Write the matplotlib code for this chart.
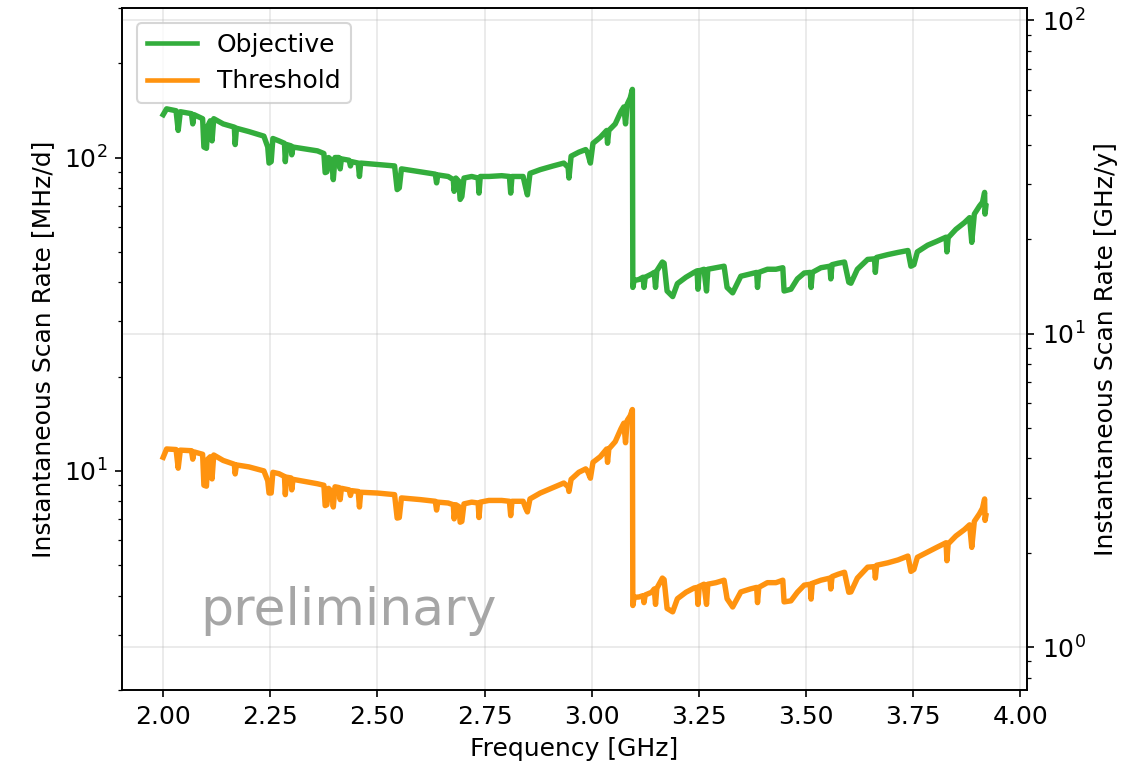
import numpy as np
import matplotlib
matplotlib.use("Agg")
import matplotlib.pyplot as plt
plt.rcParams.update({'font.size': 12})

# frequency grid [GHz], shared by both curves
freq = [2.000, 2.008, 2.030, 2.035, 2.040, 2.066, 2.069, 2.072, 2.092, 2.095,
        2.101, 2.104, 2.110, 2.114, 2.118, 2.140, 2.166, 2.168, 2.171, 2.200,
        2.235, 2.244, 2.247, 2.252, 2.256, 2.270, 2.283, 2.285, 2.288, 2.298,
        2.300, 2.303, 2.360, 2.375, 2.378, 2.382, 2.386, 2.393, 2.397, 2.401,
        2.410, 2.413, 2.416, 2.434, 2.437, 2.440, 2.455, 2.458, 2.461, 2.500,
        2.540, 2.546, 2.551, 2.556, 2.600, 2.635, 2.638, 2.641, 2.665, 2.677,
        2.679, 2.683, 2.690, 2.693, 2.697, 2.702, 2.720, 2.735, 2.737, 2.740,
        2.760, 2.790, 2.808, 2.811, 2.814, 2.840, 2.846, 2.850, 2.856, 2.880,
        2.910, 2.935, 2.945, 2.947, 2.952, 2.970, 2.986, 2.990, 2.997, 3.003,
        3.020, 3.035, 3.037, 3.040, 3.055, 3.068, 3.075, 3.079, 3.083, 3.090,
        3.095, 3.096, 3.099, 3.110, 3.120, 3.122, 3.125, 3.140, 3.146, 3.149,
        3.152, 3.165, 3.169, 3.176, 3.189, 3.200, 3.220, 3.239, 3.246, 3.248,
        3.251, 3.262, 3.268, 3.271, 3.290, 3.309, 3.316, 3.329, 3.348, 3.370,
        3.385, 3.387, 3.390, 3.410, 3.430, 3.446, 3.449, 3.465, 3.480, 3.496,
        3.510, 3.512, 3.515, 3.535, 3.556, 3.558, 3.561, 3.575, 3.590, 3.600,
        3.605, 3.620, 3.644, 3.660, 3.662, 3.665, 3.691, 3.715, 3.738, 3.745,
        3.752, 3.760, 3.784, 3.805, 3.827, 3.829, 3.832, 3.850, 3.870, 3.882,
        3.887, 3.893, 3.905, 3.912, 3.917, 3.918, 3.920]

# objective scan rate [MHz/d]
objective = [137, 143, 141, 122, 140, 138, 128, 137, 133, 108,
             107, 126, 131, 113, 133, 128, 125, 110, 124, 121,
             117, 108, 96, 97, 115, 113, 111, 97, 110, 109,
             102, 108, 105, 103, 89.5, 90, 100, 98, 85, 100,
             100, 92, 99, 98, 94, 97, 96, 87, 96, 95,
             94, 79, 80, 92, 90, 88.5, 83, 88, 87, 85,
             78, 86, 84, 73.5, 75, 86, 87, 86, 77, 87,
             87, 87.5, 87, 77, 87, 87, 80, 76, 89, 91.5,
             94, 96, 93, 86, 101, 104, 106, 104, 96, 111,
             116, 122, 111, 122, 128, 140, 145, 128, 148, 155,
             165, 38.5, 40.5, 40.8, 41.5, 38.5, 41.5, 42.5, 43, 38.5,
             43.5, 46.4, 46, 37.5, 36, 39.6, 41.5, 43, 43.5, 38,
             43.5, 44, 37.5, 44, 44.5, 45, 38.5, 37, 41.8, 42.5,
             43, 38.5, 43, 44, 44, 44.5, 37.5, 38, 41, 42.8,
             43, 38.5, 43, 44.5, 45, 41, 45.5, 46, 46.4, 40,
             39.7, 44, 47.3, 47.5, 43, 48, 49, 49.8, 50.5, 45,
             45.5, 50, 52.5, 54, 55.7, 50, 55.5, 59, 62, 64.3,
             53.6, 66, 70, 72, 77.4, 66, 70]

# threshold scan rate [MHz/d]
threshold = [11.05, 11.75, 11.7, 10.2, 11.65, 11.6, 10.9, 11.5, 11.3, 9.0,
             8.94, 10.9, 11.1, 9.43, 11.24, 10.8, 10.5, 9.78, 10.45, 10.3,
             10.0, 9.3, 8.5, 8.5, 9.9, 9.8, 9.6, 8.4, 9.55, 9.5,
             8.7, 9.4, 9.1, 9.0, 7.75, 7.8, 8.8, 8.6, 7.67, 8.9,
             8.85, 8.1, 8.8, 8.7, 8.35, 8.65, 8.6, 7.67, 8.55, 8.5,
             8.4, 7.07, 7.1, 8.2, 8.1, 8.0, 7.5, 7.95, 7.9, 7.8,
             7.03, 7.8, 7.7, 6.86, 6.9, 7.85, 7.95, 7.9, 7.1, 7.95,
             8.05, 8.05, 8.0, 7.2, 8.0, 8.0, 7.6, 7.4, 8.14, 8.5,
             8.85, 9.15, 8.9, 8.6, 9.4, 9.9, 10.15, 10.0, 9.48, 10.65,
             11.1, 11.75, 10.65, 11.75, 12.4, 13.6, 14.2, 12.3, 14.5, 15.0,
             15.7, 3.72, 3.95, 3.96, 4.0, 3.8, 4.02, 4.1, 4.2, 3.75,
             4.22, 4.55, 4.5, 3.64, 3.55, 3.91, 4.1, 4.23, 4.25, 3.75,
             4.28, 4.35, 3.75, 4.35, 4.4, 4.48, 3.91, 3.68, 4.11, 4.2,
             4.25, 3.8, 4.25, 4.4, 4.4, 4.48, 3.82, 3.85, 4.1, 4.32,
             4.35, 3.9, 4.38, 4.48, 4.55, 4.2, 4.6, 4.68, 4.75, 4.1,
             4.11, 4.55, 4.93, 4.95, 4.55, 5.0, 5.09, 5.2, 5.35, 4.78,
             4.85, 5.3, 5.51, 5.7, 5.9, 5.17, 5.85, 6.2, 6.5, 6.73,
             5.7, 6.9, 7.3, 7.6, 8.14, 6.95, 7.2]

MHZ_PER_DAY_TO_GHZ_PER_YEAR = 365.0 / 1000.0

fig, ax = plt.subplots(figsize=(1127 / 150, 768 / 150), dpi=150)
fig.subplots_adjust(left=0.1083, right=0.9113, top=0.9896, bottom=0.1016)

ax.plot(freq, objective, color="#33ad3c", lw=2.6, label="Objective")
ax.plot(freq, threshold, color="#ff930f", lw=2.6, label="Threshold")
ax.set_yscale("log")
ax.set_ylim(2, 300)
ax.set_xlabel("Frequency [GHz]")
ax.set_ylabel("Instantaneous Scan Rate [MHz/d]")
ax.set_xticks([2.0, 2.25, 2.5, 2.75, 3.0, 3.25, 3.5, 3.75, 4.0])
ax.grid(axis="x", alpha=0.3)
leg = ax.legend(loc="upper left", borderaxespad=0.6)
for line in leg.get_lines():
    line.set_linewidth(2.2)

# right axis in GHz/y
ax2 = ax.twinx()
ax2.set_yscale("log")
lo, hi = ax.get_ylim()
ax2.set_ylim(lo * MHZ_PER_DAY_TO_GHZ_PER_YEAR, hi * MHZ_PER_DAY_TO_GHZ_PER_YEAR)
ax2.set_ylabel("Instantaneous Scan Rate [GHz/y]")
ax2.grid(axis="y", alpha=0.3)

ax.text(0.086, 0.095, "preliminary", transform=ax.transAxes,
        fontsize=25, color="#a6a6a6", va="baseline")

fig.savefig("out.png", dpi=150)
